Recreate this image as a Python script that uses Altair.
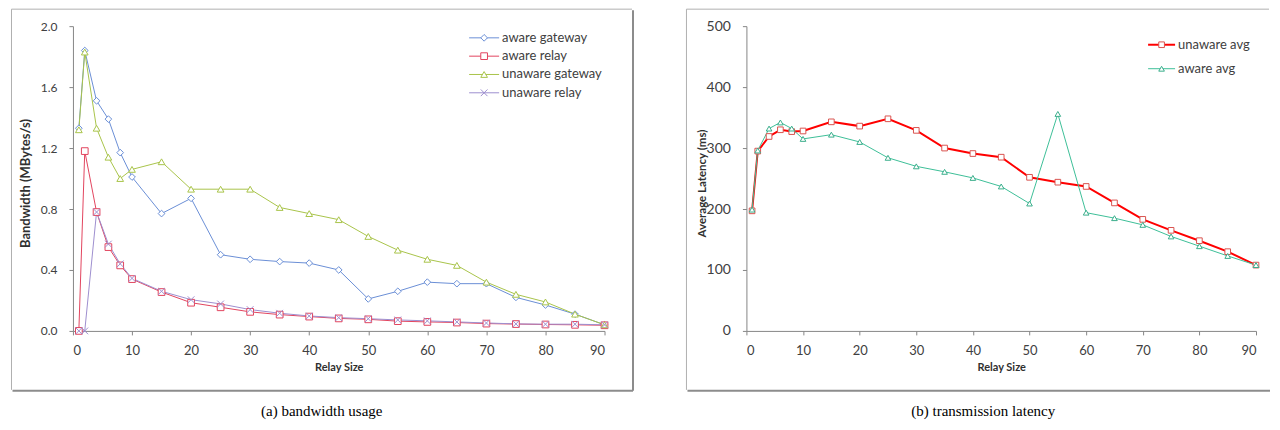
import altair as alt
import pandas as pd

# ---------------- data ----------------
relay_size = [1, 2, 4, 6, 8, 10, 15, 20, 25, 30, 35, 40, 45, 50, 55, 60, 65, 70, 75, 80, 85, 90]

aware_gateway = [1.33, 1.84, 1.51, 1.39, 1.17, 1.01, 0.77, 0.87, 0.50, 0.47, 0.455, 0.445,
                 0.40, 0.21, 0.26, 0.32, 0.31, 0.31, 0.22, 0.17, 0.11, 0.04]
aware_relay = [0.0, 1.18, 0.78, 0.55, 0.43, 0.34, 0.255, 0.185, 0.155, 0.125, 0.107, 0.094,
               0.082, 0.076, 0.064, 0.059, 0.055, 0.048, 0.045, 0.042, 0.040, 0.037]
unaware_gateway = [1.32, 1.83, 1.33, 1.14, 1.00, 1.06, 1.11, 0.93, 0.93, 0.93, 0.81, 0.77,
                   0.73, 0.62, 0.53, 0.47, 0.43, 0.32, 0.24, 0.19, 0.11, 0.04]
unaware_relay = [0.0, 0.0, 0.78, 0.57, 0.44, 0.345, 0.26, 0.205, 0.177, 0.14, 0.116, 0.098,
                 0.087, 0.080, 0.072, 0.066, 0.059, 0.052, 0.046, 0.044, 0.044, 0.040]

unaware_avg = [197, 295, 319, 330, 327, 328, 343, 336, 348, 329, 300, 291,
               285, 252, 244, 237, 210, 183, 165, 148, 130, 108]
aware_avg = [199, 296, 332, 342, 332, 315, 322, 310, 284, 270, 261, 251,
             237, 209, 356, 194, 185, 174, 155, 139, 123, 108]

bw_series = ["aware gateway", "aware relay", "unaware gateway", "unaware relay"]
bw_colors = ["#6A8FD6", "#E2445E", "#A9C44A", "#9E8FCF"]
bw_shapes = ["diamond", "square", "triangle-up", "M-1,-1L1,1M-1,1L1,-1"]

lat_series = ["unaware avg", "aware avg"]
lat_colors = ["#FF0000", "#3DBF98"]
lat_point_colors = ["#D9534F", "#3AAE8C"]
lat_shapes = ["square", "triangle-up"]
lat_widths = [2, 1]

x_ticks = [0, 10, 20, 30, 40, 50, 60, 70, 80, 90]
bw_ticks = [0.0, 0.4, 0.8, 1.2, 1.6, 2.0]
lat_ticks = [0, 100, 200, 300, 400, 500]

captions = ["(a) bandwidth usage", "(b) transmission latency"]
x_title = "Relay Size"
bw_title = "Bandwidth (MBytes/s)"
lat_title = "Average Latency (ms)"

# ---------------- tables ----------------
bw_df = pd.concat([
    pd.DataFrame({"size": relay_size, "value": vals, "series": name})
    for name, vals in zip(bw_series, [aware_gateway, aware_relay, unaware_gateway, unaware_relay])
])
lat_df = pd.concat([
    pd.DataFrame({"size": relay_size, "value": vals, "series": name})
    for name, vals in zip(lat_series, [unaware_avg, aware_avg])
])

FONT = "Lato"
TXT = "#404040"
AX = "#868686"
FRAME = "#B0B0B0"
SHADOW = "#8C8C8C"


def x_axis():
    return alt.Axis(values=x_ticks, format="d", tickSize=4, labelPadding=10, labelFontSize=13,
                    labelFont=FONT, labelColor=TXT, domainColor=AX, tickColor=AX, grid=False,
                    title=x_title, titleFont=FONT, titleFontSize=11, titleFontWeight="bold",
                    titleColor="#303030", titleY=37, titleBaseline="middle")


def y_axis(vals, fmt, title, fsize, tx, tfs):
    return alt.Axis(values=vals, format=fmt, tickSize=4, labelPadding=12, labelFontSize=fsize,
                    labelFont=FONT, labelColor=TXT, domainColor=AX, tickColor=AX, grid=False,
                    title=title, titleFont=FONT, titleFontSize=tfs, titleFontWeight="bold",
                    titleColor="#303030", titleX=tx, titleY=157, titleBaseline="middle",
                    titleAngle=270)


def hrule(one, x1, x2, y, color, w):
    return alt.Chart(one).mark_rule(color=color, strokeWidth=w).encode(
        x=alt.value(x1), x2=alt.value(x2), y=alt.value(y))


def vrule(one, x, y1, y2, color, w):
    return alt.Chart(one).mark_rule(color=color, strokeWidth=w).encode(
        x=alt.value(x), y=alt.value(y1), y2=alt.value(y2))


def panel(df, series, colors, pcolors, shapes, widths, ydom, yvals, yfmt, ytitle, yfs, tx, tfs,
          W, H, leg_x, leg_y, frame, right_edge, caption, cap_x, psize):
    color = alt.Color("series:N", scale=alt.Scale(domain=series, range=colors), legend=None)
    stroke = alt.Stroke("series:N", scale=alt.Scale(domain=series, range=pcolors), legend=None)
    shape = alt.Shape("series:N", scale=alt.Scale(domain=series, range=shapes), legend=None)
    sw = alt.StrokeWidth("series:N", scale=alt.Scale(domain=series, range=widths), legend=None)
    X = alt.X("size:Q", scale=alt.Scale(domain=[0, 90], nice=False), axis=x_axis())
    Y = alt.Y("value:Q", scale=alt.Scale(domain=ydom, nice=False),
              axis=y_axis(yvals, yfmt, ytitle, yfs, tx, tfs))

    base = alt.Chart(df)
    lines = base.mark_line().encode(x=X, y=Y, color=color, strokeWidth=sw)
    points = base.mark_point(fill="white", fillOpacity=1, strokeWidth=1, size=psize, opacity=1).encode(
        x=X, y=Y, stroke=stroke, shape=shape)
    data_layer = alt.layer(lines, points)

    leg_df = pd.DataFrame({"series": series})
    LY = alt.Y("series:N", sort=series,
               scale=alt.Scale(domain=series, range=leg_y, type="point", padding=0), axis=None)
    lbase = alt.Chart(leg_df)
    l_rule = lbase.mark_rule().encode(x=alt.value(leg_x[0]), x2=alt.value(leg_x[1]), y=LY,
                                      color=color, strokeWidth=sw)
    l_pt = lbase.mark_point(fill="white", fillOpacity=1, strokeWidth=1, size=psize, opacity=1).encode(
        x=alt.value((leg_x[0] + leg_x[1]) / 2), y=LY, stroke=stroke, shape=shape)
    l_txt = lbase.mark_text(align="left", baseline="middle", font=FONT, fontSize=13, color=TXT).encode(
        x=alt.value(leg_x[1] + 3), y=LY, text="series:N")
    legend_layer = alt.layer(l_rule, l_pt, l_txt)

    one = alt.Data(values=[{"t": caption}])
    x0, x1, y0, y1 = frame
    layers = [
        hrule(one, x0, x1, y0, FRAME, 1),
        vrule(one, x0, y0, y1, FRAME, 1),
        hrule(one, x0 + 1, x1 + 1, y1 + 1, SHADOW, 2),
    ]
    if right_edge:
        layers.append(vrule(one, x1 + 1, y0 + 1, y1 + 1, SHADOW, 2))
    cap = alt.Chart(one).mark_text(font="Liberation Serif", fontSize=15, color="black",
                                   align="center", baseline="middle").encode(
        x=alt.value(cap_x), y=alt.value(y1 + 21), text="t:N")
    layers.append(cap)

    return alt.layer(data_layer, legend_layer, *layers).resolve_scale(
        y="independent").properties(width=W, height=H)


left = panel(bw_df, bw_series, bw_colors, bw_colors, bw_shapes, [1, 1, 1, 1], [0, 2.0], bw_ticks,
             ".1f", bw_title, 12, -47, 13, 532, 305,
             leg_x=[396.5, 426.5], leg_y=[11.7, 66.7],
             frame=[-61.5, 559.5, -17, 364], right_edge=True,
             caption=captions[0], cap_x=249, psize=45)

right = panel(lat_df, lat_series, lat_colors, lat_point_colors, lat_shapes, lat_widths, [0, 500],
              lat_ticks, "d", lat_title, 14, -44, 11.5, 510, 305,
              leg_x=[402, 429], leg_y=[18.6, 42.6],
              frame=[-60, 523, -17, 364], right_edge=False,
              caption=captions[1], cap_x=237, psize=32)

chart = alt.hconcat(left, right, spacing=51).resolve_scale(
    x="independent", y="independent", color="independent", shape="independent",
    stroke="independent", strokeWidth="independent"
).properties(
    padding={"left": 2, "top": 0, "right": 0, "bottom": 0}, background="white"
).configure_view(stroke="transparent")

chart.save("out.html", embed_options={"renderer": "svg", "actions": False})
